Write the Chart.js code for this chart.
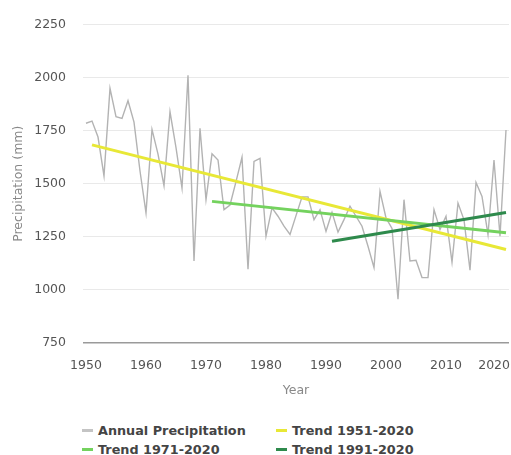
<!DOCTYPE html>
<html>
<head>
<meta charset="utf-8">
<script src="https://cdn.jsdelivr.net/npm/chart.js@4"></script>
<style>
  html, body { margin: 0; padding: 0; background: #fff; }
  body { width: 511px; height: 455px; position: relative; overflow: hidden; font-family: "DejaVu Sans", sans-serif; }
  #wrap { position: absolute; left: 0; top: 0; width: 511px; height: 405px; }
  #legend { position: absolute; left: 82px; top: 421px; display: grid; grid-template-columns: 194px 170px; row-gap: 1px; }
  .item { display: flex; align-items: center; font-size: 12.8px; font-weight: 700; color: #444; height: 18px; white-space: nowrap; }
  .mark { width: 11px; height: 3px; margin-right: 5px; }
</style>
</head>
<body>
<div id="wrap"><canvas id="chart"></canvas></div>
<div id="legend"></div>
<script>
const years = [1950, 1951, 1952, 1953, 1954, 1955, 1956, 1957, 1958, 1959,
    1960, 1961, 1962, 1963, 1964, 1965, 1966, 1967, 1968, 1969,
    1970, 1971, 1972, 1973, 1974, 1975, 1976, 1977, 1978, 1979,
    1980, 1981, 1982, 1983, 1984, 1985, 1986, 1987, 1988, 1989,
    1990, 1991, 1992, 1993, 1994, 1995, 1996, 1997, 1998, 1999,
    2000, 2001, 2002, 2003, 2004, 2005, 2006, 2007, 2008, 2009,
    2010, 2011, 2012, 2013, 2014, 2015, 2016, 2017, 2018, 2019,
    2020];

// Annual precipitation (mm)
const precip = [1785, 1795, 1720, 1537, 1949, 1816, 1808, 1891, 1790, 1560,
    1363, 1756, 1640, 1491, 1839, 1670, 1480, 2011, 1136, 1761,
    1425, 1641, 1612, 1378, 1400, 1510, 1625, 1097, 1605, 1620,
    1253, 1386, 1347, 1300, 1261, 1350, 1438, 1438, 1331, 1378,
    1276, 1365, 1272, 1331, 1394, 1347, 1300, 1206, 1105, 1464,
    1339, 1290, 956, 1425, 1136, 1140, 1058, 1058, 1378, 1284,
    1347, 1131, 1409, 1330, 1093, 1506, 1440, 1261, 1612, 1253,
    1753];

// trend lines: [start year, end year], [start value, end value]
const trend5120Years = [1951, 2020];
const trend5120 = [1683, 1190];
const trend7120Years = [1971, 2020];
const trend7120 = [1417, 1269];
const trend9120Years = [1991, 2020];
const trend9120 = [1229, 1365];

const xTicks = [1950, 1960, 1970, 1980, 1990, 2000, 2010, 2020];
const yTicks = [750, 1000, 1250, 1500, 1750, 2000, 2250];

const seriesNames = ['Annual Precipitation', 'Trend 1951-2020', 'Trend 1971-2020', 'Trend 1991-2020'];
const seriesColors = ['#c4c4c4', '#e8e836', '#74d25e', '#2e8a4c'];

function pts(xs, ys) {
    return xs.map((x, i) => ({ x: x, y: ys[i] }));
}

// keep the last x label inside the canvas (right aligned)
const edgeLabel = {
    id: 'edgeLabel',
    beforeDraw(chart) {
        const items = chart.scales.x.getLabelItems();
        const last = items[items.length - 1];
        if (last) {
            last.options.textAlign = 'right';
            last.options.translation[0] = 510;
        }
    }
};

const tickFont = { family: 'DejaVu Sans', size: 12.5 };

const ctx = document.getElementById('chart').getContext('2d');
const chart = new Chart(ctx, {
    type: 'line',
    data: {
        datasets: [{
            label: seriesNames[0],
            data: pts(years, precip),
            borderColor: '#b3b3b3',
            borderWidth: 1.4,
            pointRadius: 0,
            tension: 0,
            order: 3
        }, {
            label: seriesNames[1],
            data: pts(trend5120Years, trend5120),
            borderColor: seriesColors[1],
            borderWidth: 3,
            pointRadius: 0,
            order: 2
        }, {
            label: seriesNames[2],
            data: pts(trend7120Years, trend7120),
            borderColor: seriesColors[2],
            borderWidth: 3,
            pointRadius: 0,
            order: 1
        }, {
            label: seriesNames[3],
            data: pts(trend9120Years, trend9120),
            borderColor: seriesColors[3],
            borderWidth: 3,
            pointRadius: 0,
            order: 0
        }]
    },
    options: {
        responsive: true,
        maintainAspectRatio: false,
        animation: false,
        layout: { padding: { top: 23, right: 2, left: 10, bottom: 7 } },
        plugins: {
            legend: { display: false },
            tooltip: { enabled: false }
        },
        scales: {
            x: {
                type: 'linear',
                min: 1949.5,
                max: 2020.5,
                afterBuildTicks: (scale) => { scale.ticks = xTicks.map(v => ({ value: v })); },
                afterFit: (scale) => { scale.paddingRight = 0; scale.height = 55; },
                grid: { display: false, drawTicks: false },
                border: { display: false },
                ticks: {
                    padding: 15,
                    color: '#555',
                    font: tickFont,
                    maxRotation: 0,
                    autoSkip: false,
                    callback: (v) => String(v)
                },
                title: {
                    display: true,
                    text: 'Year',
                    color: '#888',
                    font: tickFont,
                    padding: { top: 0, bottom: 0 }
                }
            },
            y: {
                min: 750,
                max: 2250,
                afterBuildTicks: (scale) => { scale.ticks = yTicks.map(v => ({ value: v })); },
                afterFit: (scale) => { scale.width = 73; },
                grid: {
                    drawTicks: false,
                    color: (c) => c.tick && c.tick.value === 750 ? '#9a9a9a' : '#e9e9e9',
                    lineWidth: (c) => c.tick && c.tick.value === 750 ? 1.6 : 1
                },
                border: { display: false },
                ticks: {
                    padding: 17,
                    color: '#555',
                    font: tickFont,
                    callback: (v) => String(v)
                },
                title: {
                    display: true,
                    text: 'Precipitation (mm)',
                    color: '#888',
                    font: tickFont,
                    padding: { top: 1, bottom: 4 }
                }
            }
        }
    },
    plugins: [edgeLabel]
});

// legend in two aligned columns
const legend = document.getElementById('legend');
seriesNames.forEach((name, i) => {
    const item = document.createElement('div');
    item.className = 'item';
    const mark = document.createElement('span');
    mark.className = 'mark';
    mark.style.background = seriesColors[i];
    item.appendChild(mark);
    item.appendChild(document.createTextNode(name));
    legend.appendChild(item);
});
</script>
</body>
</html>
